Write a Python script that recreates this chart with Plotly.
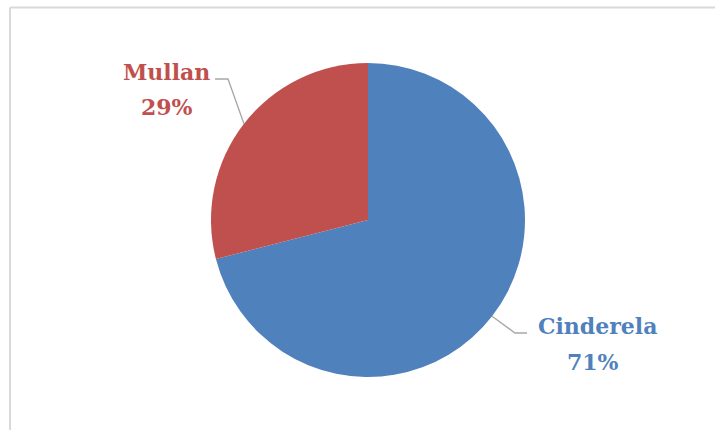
import math
import plotly.graph_objects as go

labels = ["Cinderela", "Mullan"]
values = [71, 29]
colors = ["#4F81BD", "#C0504D"]

W, H = 715, 430
cx, cy, r = 368, 220, 157  # pixel geometry of pie

fig = go.Figure(go.Pie(
    labels=labels, values=values, sort=False, direction="clockwise", rotation=0,
    marker=dict(colors=colors, line=dict(width=0)),
    textinfo="none", hoverinfo="none", showlegend=False,
    domain=dict(x=[(cx - r) / W, (cx + r) / W], y=[(H - cy - r) / H, (H - cy + r) / H]),
))

shapes = [
    dict(type="line", xref="paper", yref="paper", x0=10 / W, x1=10 / W, y0=0, y1=1 - 7.5 / H,
         line=dict(color="#D9D9D9", width=2)),
    dict(type="line", xref="paper", yref="paper", x0=10 / W, x1=1, y0=1 - 7.5 / H, y1=1 - 7.5 / H,
         line=dict(color="#D9D9D9", width=2)),
]
annotations = []
total = sum(values)
start = 0.0
# label layout (pixel): elbow, line end, name centre, percent centre
label_cfg = {
    "Cinderela": dict(elbow=(515, 333), end=(527, 333), name=(597, 326), pct=(593, 362)),
    "Mullan": dict(elbow=(228, 79), end=(215, 79), name=(166, 72), pct=(167, 107)),
}
for lab, v, c in zip(labels, values, colors):
    frac = v / total
    mid = (start + frac / 2) * 2 * math.pi
    start += frac
    px = cx + r * math.sin(mid)
    py = cy - r * math.cos(mid)
    cfg = label_cfg[lab]
    ex, ey = cfg["elbow"]
    tx, ty = cfg["end"]
    shapes.append(dict(type="path", xref="paper", yref="paper",
                       path=f"M {px/W} {1-py/H} L {ex/W} {1-ey/H} L {tx/W} {1-ty/H}",
                       line=dict(color="#A6A6A6", width=1.3)))
    for key, txt in (("name", lab), ("pct", f"{round(frac*100)}%")):
        x, y = cfg[key]
        annotations.append(dict(
            xref="paper", yref="paper", x=x / W, y=1 - y / H,
            text=f"<b>{txt}</b>", showarrow=False,
            font=dict(family="DejaVu Serif", size=22, color=c),
            xanchor="center", yanchor="middle",
        ))

fig.update_layout(
    width=W, height=H, margin=dict(l=0, r=0, t=0, b=0),
    paper_bgcolor="white", plot_bgcolor="white",
    shapes=shapes, annotations=annotations,
)
fig.write_html("out.html")
